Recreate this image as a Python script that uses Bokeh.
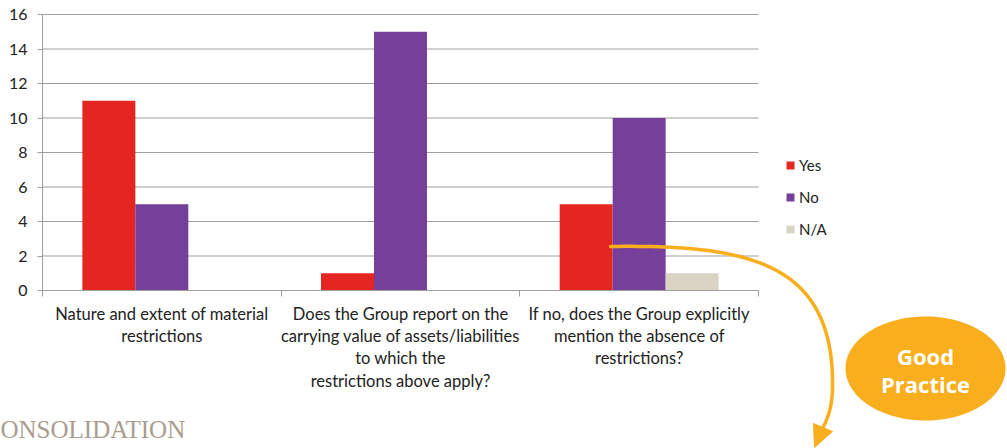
import numpy as np
from bokeh.plotting import figure
from bokeh.models import (ColumnDataSource, Range1d, FixedTicker, Legend, LegendItem,
                          Label, PolyAnnotation, LinearAxis)
from bokeh.transform import dodge
from bokeh.embed import file_html
from bokeh.resources import INLINE

# ---------------- data ----------------
categories = [
    "Nature and extent of material\nrestrictions",
    "Does the Group report on the\ncarrying value of assets/liabilities\nto which the\nrestrictions above apply?",
    "If no, does the Group explicitly\nmention the absence of\nrestrictions?",
]
yes = [11, 1, 5]
no = [5, 15, 10]
na = [0, 0, 1]
series_names = ["Yes", "No", "N/A"]
y_ticks = [0, 2, 4, 6, 8, 10, 12, 14, 16]
badge_lines = ["Good", "Practice"]
footer_text = "ONSOLIDATION"

# ---------------- styling / layout ----------------
W, H = 1007, 448
L, R, T, B = 42, 758, 14, 290          # pixel box of the chart area
colors = ["#E42522", "#76409A", "#D9D4C3"]
grid_col = "#9E9E9E"
text_col = "#222222"
orange = "#F9AE1E"
font = "Lato"

n = len(categories)
ymax = y_ticks[-1]
pxu_x = (R - L) / n
pxu_y = (B - T) / ymax
x_rng = Range1d(-L / pxu_x, n + (W - R) / pxu_x)
y_rng = Range1d(-(H - B) / pxu_y, ymax + T / pxu_y)

centers = [i + 0.5 for i in range(n)]
src = ColumnDataSource(dict(x=centers, yes=yes, no=no, na=na))

p = figure(width=W, height=H, x_range=x_rng, y_range=y_rng,
           output_backend="svg", toolbar_location=None,
           x_axis_type=None, y_axis_type=None, min_border=0)
p.outline_line_color = None
p.background_fill_color = "white"
p.xgrid.visible = False
p.ygrid.visible = False

# horizontal gridlines limited to the chart area
p.segment(x0=0, x1=n, y0=y_ticks, y1=y_ticks, line_color=grid_col, line_width=1)

bw = 0.222
r_yes = p.vbar(x=dodge("x", -bw, range=p.x_range), top="yes", width=bw, source=src,
               fill_color=colors[0], line_color=None)
r_no = p.vbar(x=dodge("x", 0, range=p.x_range), top="no", width=bw, source=src,
              fill_color=colors[1], line_color=None)
r_na = p.vbar(x=dodge("x", bw, range=p.x_range), top="na", width=bw, source=src,
              fill_color=colors[2], line_color=None)

# x axis: labels at centers, tick marks at category boundaries
xa = LinearAxis(fixed_location=0, bounds=(0, n))
xa.ticker = FixedTicker(ticks=centers, minor_ticks=list(range(n + 1)))
xa.major_label_overrides = {c: lab for c, lab in zip(centers, categories)}
xa.major_tick_line_color = None
xa.major_tick_out = 0
xa.major_tick_in = 0
xa.minor_tick_line_color = grid_col
xa.minor_tick_out = 6
xa.minor_tick_in = 0
xa.axis_line_color = grid_col
xa.major_label_text_font = font
xa.major_label_text_font_size = "16.5px"
xa.major_label_text_color = text_col
xa.major_label_text_line_height = 1.12
xa.major_label_standoff = 7
p.add_layout(xa, "below")

ya = LinearAxis(fixed_location=0, bounds=(0, ymax))
ya.ticker = FixedTicker(ticks=y_ticks)
ya.minor_tick_line_color = None
ya.major_tick_out = 5
ya.major_tick_in = 0
ya.major_tick_line_color = grid_col
ya.axis_line_color = grid_col
ya.major_label_text_font = font
ya.major_label_text_font_size = "16px"
ya.major_label_text_color = text_col
ya.major_label_standoff = 10
p.add_layout(ya, "left")

# screen helpers (canvas px from top-left -> screen units of the frame)
def sx(cx):
    return cx

def sy(cy):
    return H - np.asarray(cy, float)

legend = Legend(items=[LegendItem(label=s, renderers=[r]) for s, r in
                       zip(series_names, [r_yes, r_no, r_na])],
                location=(785, float(sy(239))), padding=0, margin=0, spacing=12,
                glyph_width=10, glyph_height=10, label_height=20, label_standoff=4,
                label_text_font=font, label_text_font_size="15px",
                label_text_color=text_col, background_fill_alpha=0,
                border_line_color=None)
p.add_layout(legend, "center")

# footer text
p.add_layout(Label(x=0, y=float(sy(429)), x_units="screen", y_units="screen",
                   text=footer_text, text_font="Liberation Serif", text_font_size="25px",
                   text_color="#A99D8F", text_baseline="middle", text_align="left"))

# Good Practice badge
t = np.linspace(0, 2 * np.pi, 160)
ex = 925 + 80 * np.cos(t)
ey = 368 + 52 * np.sin(t)
p.add_layout(PolyAnnotation(xs=list(sx(ex)), ys=list(sy(ey)), xs_units="screen",
                            ys_units="screen", fill_color=orange, fill_alpha=1,
                            line_color=None))
for line, cy in zip(badge_lines, [355, 383]):
    p.add_layout(Label(x=925, y=float(sy(cy)), x_units="screen", y_units="screen",
                       text=line, text_font="Open Sans", text_font_style="bold",
                       text_font_size="22px", text_color="white",
                       text_align="center", text_baseline="middle"))

# curved arrow
def bez(p0, p1, p2, p3, m=60):
    tt = np.linspace(0, 1, m)[:, None]
    P = [np.array(q, float) for q in (p0, p1, p2, p3)]
    return ((1 - tt) ** 3) * P[0] + 3 * ((1 - tt) ** 2) * tt * P[1] + 3 * (1 - tt) * tt ** 2 * P[2] + tt ** 3 * P[3]

c1 = bez((610, 246), (750, 244), (835, 262), (832, 390))
c2 = bez((832, 390), (831, 405), (829, 414), (823, 426), 15)
curve = np.vstack([c1, c2[1:]])
cx_all = np.concatenate([curve[:, 0], curve[::-1, 0]])
cy_all = np.concatenate([curve[:, 1], curve[::-1, 1]])
p.add_layout(PolyAnnotation(xs=list(sx(cx_all)), ys=list(sy(cy_all)), xs_units="screen",
                            ys_units="screen", fill_alpha=0, line_color=orange,
                            line_alpha=1, line_width=3.5, line_join="round"))
head = np.array([(813, 423), (832, 431), (814, 447)], float)
p.add_layout(PolyAnnotation(xs=list(sx(head[:, 0])), ys=list(sy(head[:, 1])),
                            xs_units="screen", ys_units="screen", fill_color=orange,
                            fill_alpha=1, line_color=orange, line_alpha=1, line_width=1))

open("out.html", "w").write(file_html(p, INLINE))
